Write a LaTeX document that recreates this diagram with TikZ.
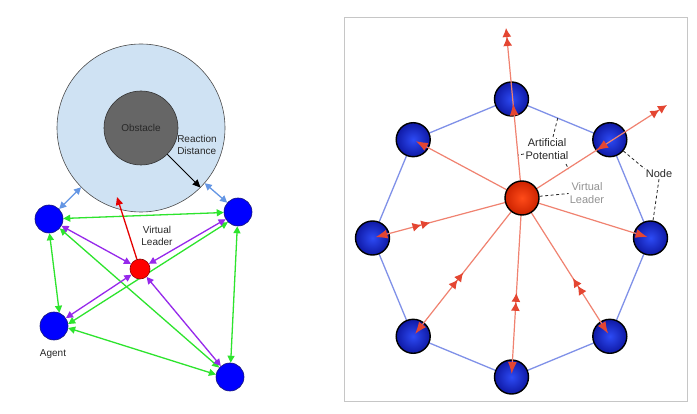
\documentclass[tikz,border=0pt]{standalone}
\usepackage{fontspec}
\setmainfont{Liberation Sans}
\usetikzlibrary{arrows.meta,decorations.markings,calc}
\pgfdeclarelayer{back}
\pgfdeclarelayer{bg}
\pgfsetlayers{back,bg,main}
\definecolor{lblue}{HTML}{CFE2F3}
\definecolor{obsgray}{HTML}{666666}
\definecolor{agblue}{HTML}{0000FF}
\definecolor{ggreen}{RGB}{45,228,45}
\definecolor{ppurple}{RGB}{150,40,235}
\definecolor{cblue}{RGB}{100,150,228}
\definecolor{salmon}{RGB}{240,130,112}
\definecolor{tipred}{RGB}{228,70,50}
\definecolor{edgeblue}{RGB}{128,145,232}
\definecolor{txtdark}{RGB}{40,40,40}
\tikzset{
  gtip/.tip={Triangle[length=7pt,width=7pt]},
  rtip/.tip={Latex[length=12pt,width=9pt,color=tipred]},
  bigc/.style={circle,fill=lblue,draw=gray!60!black,line width=0.6pt,minimum size=168pt,inner sep=0pt},
  obst/.style={circle,fill=obsgray,draw=gray!40!black,line width=0.6pt,minimum size=74pt,inner sep=0pt,font=\fontsize{10}{12}\selectfont,text=txtdark},
  agent/.style={circle,fill=agblue,draw={rgb,255:red,20;green,20;blue,120},line width=0.6pt,minimum size=28pt,inner sep=0pt},
  vlleft/.style={circle,fill=red,draw=red!55!black,line width=0.6pt,minimum size=20pt,inner sep=0pt},
  ltxt/.style={font=\fontsize{10}{12}\selectfont,text=txtdark,inner sep=1pt},
  gline/.style={draw=ggreen,line width=1.3pt,{gtip}-{gtip}},
  pline/.style={draw=ppurple,line width=1.3pt,{gtip}-{gtip}},
  bline/.style={draw=cblue,line width=1.3pt,{gtip}-{gtip}},
  frame/.style={draw=gray!45,fill=white,line width=0.8pt},
  ball/.style={circle,inner color={rgb,255:red,45;green,75;blue,245},outer color={rgb,255:red,15;green,25;blue,165},draw=black,line width=1.4pt,minimum size=34pt,inner sep=0pt},
  vball/.style={circle,inner color={rgb,255:red,255;green,75;blue,25},outer color={rgb,255:red,205;green,35;blue,0},draw=black,line width=1.4pt,minimum size=34pt,inner sep=0pt},
  oct/.style={draw=edgeblue,line width=1.3pt},
  rl/.style={draw=salmon,line width=1.2pt},
  rend/.style={rl,-{rtip},shorten >=3pt},
  rdbl/.style={rl,-{Latex[length=9pt,width=9pt,color=tipred] Latex[length=9pt,width=9pt,color=tipred]}},
  midrev/.style={postaction={decorate,decoration={markings,mark=at position 95pt with {\arrowreversed{Latex[length=9pt,width=9pt,color=tipred] Latex[length=9pt,width=9pt,color=tipred]}}}}},
  midfwd/.style={postaction={decorate,decoration={markings,mark=at position 95pt with {\arrow{Latex[length=12pt,width=9pt,color=tipred]}}}}},
  midback/.style={postaction={decorate,decoration={markings,mark=at position 88pt with {\arrowreversed{Latex[length=12pt,width=9pt,color=tipred]}}}}},
  rtxt/.style={font=\fontsize{11}{13}\selectfont,text=txtdark,inner sep=1pt,align=center},
  dl/.style={draw=black!85,line width=0.8pt,dash pattern=on 3pt off 2.5pt}
}
\begin{document}
\begin{tikzpicture}[x=1pt,y=-1pt]
\useasboundingbox (0,0) rectangle (697,414);
\begin{pgfonlayer}{back}
\fill[white] (0,0) rectangle (697,414);
\draw[frame] (344,17) rectangle (687,401);
\end{pgfonlayer}
% ---------------- left panel ----------------
\node[bigc] (RZ) at (141,128) {};
\node[obst] (OB) at (141,128) {Obstacle};
\node[ltxt,align=left] (RD) at (197,145) {Reaction\\Distance};
\draw[line width=1pt,-{Triangle[length=8pt,width=7pt]}] (OB.-45) -- (RZ.-45);
\node[agent] (A1) at (49,219) {};
\node[agent] (A2) at (238,212) {};
\node[agent] (A3) at (54,326) {};
\node[agent] (A4) at (230,377) {};
\node[vlleft] (VLL) at (140,269) {};
\coordinate (RA) at (117,197);
\node[ltxt,align=center] (VLT) at (157,236) {Virtual\\Leader};
\node[ltxt] (AGT) at (53,354) {Agent};
\begin{pgfonlayer}{bg}
\draw[gline] (A1) -- (A2);
\draw[gline] (A1.-88) -- (A3.68);
\draw[gline] (A1) -- (A4);
\draw[gline] (A2.225) -- (A3.8);
\draw[gline] (A2) -- (A4);
\draw[gline] (A3.-8) -- (A4.170);
\draw[pline] (VLL) -- (A1);
\draw[pline] (VLL) -- (A2);
\draw[pline] (VLL) -- (A3);
\draw[pline] (VLL) -- (A4);
\end{pgfonlayer}
\draw[bline] (A1) -- (RZ);
\draw[bline] (A2) -- (RZ);
\draw[draw=red!90!black,line width=1.3pt,-{Triangle[length=8pt,width=7pt]}] (VLL) -- (RA);
% ---------------- right panel ----------------
\node[ball] (N1) at (511.5,99) {};
\node[ball] (N2) at (609.8,139.7) {};
\node[ball] (N3) at (650.5,238) {};
\node[ball] (N4) at (609.8,336.3) {};
\node[ball] (N5) at (511.5,377) {};
\node[ball] (N6) at (413.2,336.3) {};
\node[ball] (N7) at (372.5,238) {};
\node[ball] (N8) at (413.2,139.7) {};
\begin{pgfonlayer}{bg}
\draw[oct] (N1.center) -- (N2.center) -- (N3.center) -- (N4.center) -- (N5.center) -- (N6.center) -- (N7.center) -- (N8.center) -- cycle;
\end{pgfonlayer}
\coordinate (VC) at (522,198);
\coordinate (TE) at (506,28);
\coordinate (URE) at (667,105);
\draw[rdbl,midfwd] (VC) -- (TE);
\draw[rdbl,midback] (VC) -- (URE);
\draw[rend] (VC) -- (N8.center);
\draw[rend,midrev] (VC) -- (N7.center);
\draw[rend,midrev] (VC) -- (N6.center);
\draw[rend,midrev] (VC) -- (N5.center);
\draw[rend,midrev] (VC) -- (N4.center);
\draw[rend] (VC) -- (N3.center);
\node[vball] (VL) at (VC) {};
% labels
\node[rtxt] (AP) at (547,149) {Artificial\\Potential};
\node[rtxt] (NL) at (659,174) {Node};
\node[rtxt,text=gray!85] (VLR) at (587,193.5) {Virtual\\Leader};
\coordinate (APa) at (553,137);
\coordinate (APb) at ($(N1)!0.47!(N2)$);
\coordinate (APc) at (524,154);
\coordinate (APd) at (518,155);
\coordinate (APe) at (566,164);
\coordinate (APf) at (568.5,169);
\draw[dl] (APa) -- (APb);
\draw[dl] (APc) -- (APd);
\draw[dl] (APe) -- (APf);
\draw[dl] (N2) -- (NL.north west);
\draw[dl] (NL.south) -- (N3);
\draw[dl] (VL) -- (VLR.west);
\end{tikzpicture}
\end{document}
